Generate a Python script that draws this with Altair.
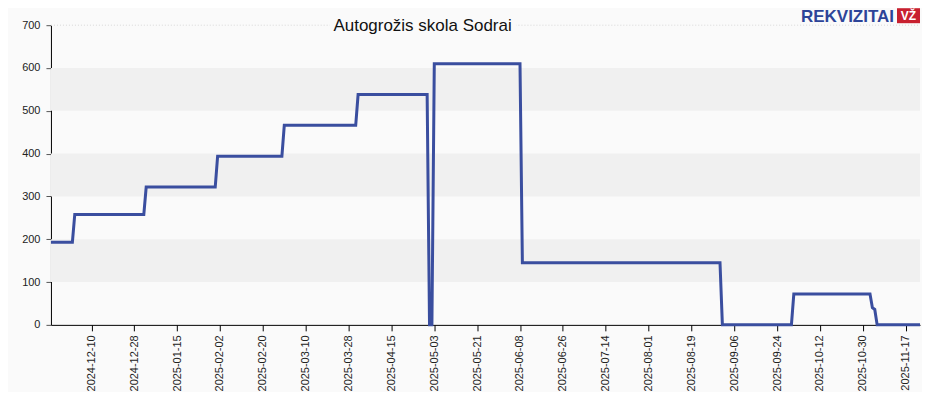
import altair as alt
import pandas as pd

# ---- data ----
dates = ["2024-11-23", "2024-12-02", "2024-12-03", "2025-01-01", "2025-01-02",
         "2025-01-31", "2025-02-01", "2025-02-28", "2025-03-01", "2025-03-31",
         "2025-04-01", "2025-04-30", "2025-05-01", "2025-05-02", "2025-05-03",
         "2025-06-08", "2025-06-09", "2025-08-31", "2025-09-01", "2025-09-30",
         "2025-10-01", "2025-11-02", "2025-11-03", "2025-11-04", "2025-11-05",
         "2025-11-23"]
values = [193, 193, 258, 258, 322,
          322, 394, 394, 466, 466,
          538, 538, 0, 0, 610,
          610, 145, 145, 0, 0,
          72, 72, 40, 36, 0,
          0]

tick_dates = ["2024-12-10", "2024-12-28", "2025-01-15", "2025-02-02", "2025-02-20",
              "2025-03-10", "2025-03-28", "2025-04-15", "2025-05-03", "2025-05-21",
              "2025-06-08", "2025-06-26", "2025-07-14", "2025-08-01", "2025-08-19",
              "2025-09-06", "2025-09-24", "2025-10-12", "2025-10-30", "2025-11-17"]
y_ticks = [0, 100, 200, 300, 400, 500, 600, 700]
band_lo = [100, 300, 500]
band_hi = [200, 400, 600]
x_start, x_end = "2024-11-23", "2025-11-23"
title_text = "Autogrožis skola Sodrai"
logo_text = "REKVIZITAI"
logo_badge = "VŽ"

W, H = 870, 300
BG = "#fafafa"


def ms(d):
    return int(pd.Timestamp(d, tz="UTC").value // 1_000_000)


df = pd.DataFrame({"date": dates, "value": values})
bands = pd.DataFrame({"lo": band_lo, "hi": band_hi})

x_scale = alt.Scale(type="utc", domain=[ms(x_start), ms(x_end)], nice=False)
y_scale = alt.Scale(domain=[0, 700], nice=False)

y_axis = alt.Axis(values=y_ticks, tickSize=5, labelPadding=6,
                  domainColor="#000", tickColor="#555",
                  labelColor="#222", labelFont="Liberation Sans",
                  labelFontSize=11, grid=False)
x_axis = alt.Axis(values=[ms(d) for d in tick_dates],
                  labelExpr="utcFormat(datum.value, '%Y-%m-%d')",
                  labelAngle=270, tickSize=6,
                  labelPadding=4, domainColor="#000", tickColor="#000",
                  labelColor="#222", labelFont="Liberation Sans",
                  labelFontSize=11, grid=False)

band_layer = alt.Chart(bands).mark_rect(color="#f0f0f0").encode(
    y=alt.Y("lo:Q", scale=y_scale, axis=y_axis, title=None),
    y2="hi:Q",
    x=alt.value(0),
    x2=alt.value(W),
)

top_rule = alt.Chart(pd.DataFrame({"v": [700]})).mark_rule(
    color="#d8d8d8", strokeDash=[1, 2], strokeWidth=1
).encode(y=alt.Y("v:Q", scale=y_scale, axis=y_axis, title=None),
         x=alt.value(0), x2=alt.value(W))

line = alt.Chart(df).mark_line(color="#3a4e9f", strokeWidth=3, strokeJoin="miter").encode(
    x=alt.X("date:T", scale=x_scale, title=None, axis=x_axis),
    y=alt.Y("value:Q", scale=y_scale, title=None, axis=y_axis),
)

title_bg = alt.Chart(pd.DataFrame({"t": [title_text]})).mark_rect(color=BG).encode(
    x=alt.value(279), x2=alt.value(466), y=alt.value(-9), y2=alt.value(3)
)
title = alt.Chart(pd.DataFrame({"t": [title_text]})).mark_text(
    font="Liberation Sans", fontSize=17, color="#111", align="center", baseline="alphabetic"
).encode(text="t:N", x=alt.value(372), y=alt.value(6))

logo = alt.Chart(pd.DataFrame({"t": [logo_text]})).mark_text(
    font="Liberation Sans", fontSize=17, fontWeight="bold", color="#2d4498",
    align="right", baseline="alphabetic"
).encode(text="t:N", x=alt.value(844), y=alt.value(-3))

badge = alt.Chart(pd.DataFrame({"t": [logo_badge]})).mark_rect(color="#c8202f").encode(
    x=alt.value(847), x2=alt.value(870), y=alt.value(-17), y2=alt.value(-2)
)
badge_text = alt.Chart(pd.DataFrame({"t": [logo_badge]})).mark_text(
    font="Liberation Sans", fontSize=12, fontWeight="bold", color="#ffffff",
    align="center", baseline="alphabetic"
).encode(text="t:N", x=alt.value(858.5), y=alt.value(-5))

chart = alt.layer(band_layer, top_rule, line, title_bg, title, logo, badge, badge_text).properties(
    width=W, height=H,
    autosize=alt.AutoSizeParams(type="none"),
    padding={"left": 43, "top": 17, "right": 2, "bottom": 67},
    background=BG,
).configure_view(stroke=None, fill=BG)

chart.save("out.html", embed_options={"renderer": "svg", "actions": False})
